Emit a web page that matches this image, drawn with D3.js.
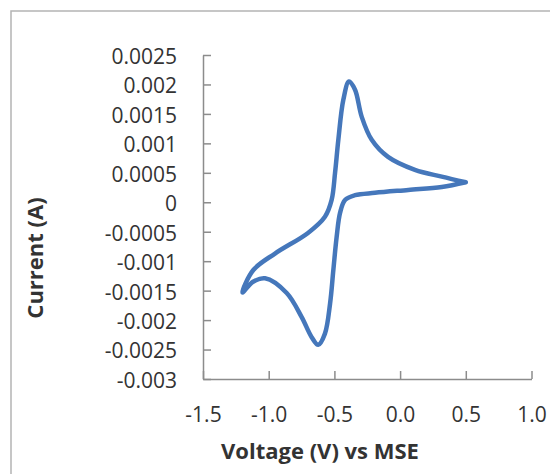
<!DOCTYPE html>
<html>
<head>
<meta charset="utf-8">
<script src="https://cdn.jsdelivr.net/npm/d3@7"></script>
<style>
  body { margin: 0; background: #fff; }
  text { font-family: "Open Sans", "Noto Sans", sans-serif; fill: #333; }
</style>
</head>
<body>
<svg id="svg" width="550" height="474"></svg>
<script>
// CV loop: voltage (V vs MSE) and current (A)
var voltage = [0.5, 0.317, 0.113, -0.092, -0.216, -0.292, -0.343, -0.389,
    -0.432, -0.470, -0.495, -0.521, -0.572, -0.701, -0.952, -1.117, -1.2,
    -1.119, -1.028, -0.863, -0.749, -0.673, -0.623, -0.572, -0.533, -0.508,
    -0.483, -0.457, -0.419, -0.343, -0.191, 0.062, 0.317, 0.5];
var current = [0.00034, 0.000435, 0.00055, 0.00077, 0.00106, 0.00145, 0.00191, 0.00205,
    0.00174, 0.00106, 0.0005, 0.00004, -0.000245, -0.00052, -0.00087, -0.00115, -0.00153,
    -0.00135, -0.00129, -0.00154, -0.00195, -0.00229, -0.00242, -0.00223, -0.00172, -0.00115,
    -0.00059, -0.00018, 0.00004, 0.00012, 0.00016, 0.00021, 0.00026, 0.00034];

var xTicks = [-1.5, -1.0, -0.5, 0.0, 0.5, 1.0];
var yTicks = [0.0025, 0.002, 0.0015, 0.001, 0.0005, 0, -0.0005, -0.001, -0.0015, -0.002, -0.0025, -0.003];
var yTickLabels = ["0.0025", "0.002", "0.0015", "0.001", "0.0005", "0", "-0.0005", "-0.001", "-0.0015", "-0.002", "-0.0025", "-0.003"];

var svg = d3.select("#svg");

// chart frame (runs off the right and bottom edge)
svg.append("rect")
    .attr("x", 11).attr("y", 11)
    .attr("width", 560).attr("height", 480)
    .attr("fill", "none")
    .attr("stroke", "#b4b4b4")
    .attr("stroke-width", 1.5);

var x = d3.scaleLinear().domain([-1.5, 1.0]).range([203, 531.5]);
var y = d3.scaleLinear().domain([-0.003, 0.0025]).range([379, 55]);

var axisColor = "#8c8c8c";

// x axis, ticks pointing inward
var gx = svg.append("g")
    .attr("transform", "translate(0," + y(-0.003) + ")")
    .call(d3.axisBottom(x).tickValues(xTicks).tickSize(-8).tickSizeOuter(0)
        .tickFormat(function(d) { return d3.format(".1f")(d).replace("−", "-"); }));
gx.select(".domain").attr("stroke", axisColor).attr("stroke-width", 1.5);
gx.selectAll(".tick line").attr("stroke", axisColor).attr("stroke-width", 1.5);
gx.selectAll(".tick text")
    .attr("y", 43).attr("dy", 0)
    .style("font-size", "21px")
    .attr("fill", "#333");

// y axis, ticks pointing inward
var gy = svg.append("g")
    .attr("transform", "translate(" + x(-1.5) + ",0)")
    .call(d3.axisLeft(y).tickValues(yTicks).tickSize(-8).tickSizeOuter(0)
        .tickFormat(function(d, i) { return yTickLabels[i]; }));
gy.select(".domain").attr("stroke", axisColor).attr("stroke-width", 1.5);
gy.selectAll(".tick line").attr("stroke", axisColor).attr("stroke-width", 1.5);
gy.selectAll(".tick text")
    .attr("x", -26).attr("dy", "0.4em")
    .style("font-size", "21px")
    .attr("fill", "#333");

// the loop
var line = d3.line()
    .x(function(d) { return x(d[0]); })
    .y(function(d) { return y(d[1]); })
    .curve(d3.curveCatmullRom.alpha(0.5));

svg.append("path")
    .datum(voltage.map(function(v, i) { return [v, current[i]]; }))
    .attr("d", line)
    .attr("fill", "none")
    .attr("stroke", "#4577bb")
    .attr("stroke-width", 4.5)
    .attr("stroke-linejoin", "round")
    .attr("stroke-linecap", "round");

// axis titles
svg.append("text")
    .attr("x", 320).attr("y", 459)
    .attr("text-anchor", "middle")
    .style("font-size", "22px").style("font-weight", "bold")
    .text("Voltage (V) vs MSE");

svg.append("text")
    .attr("transform", "translate(43,258) rotate(-90)")
    .attr("text-anchor", "middle")
    .style("font-size", "22px").style("font-weight", "bold")
    .text("Current (A)");
</script>
</body>
</html>
